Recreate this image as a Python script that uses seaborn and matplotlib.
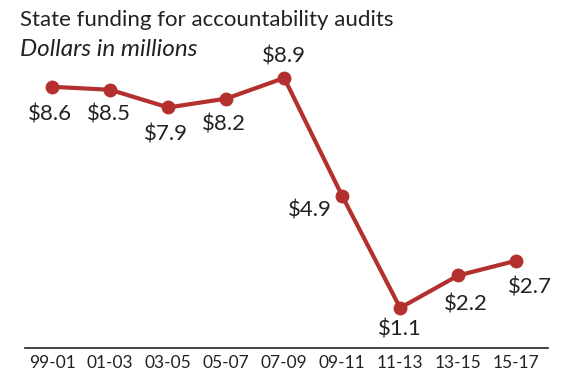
import pandas as pd
from matplotlib import pyplot as plt
import seaborn as sns

periods = ["99-01", "01-03", "03-05", "05-07", "07-09", "09-11", "11-13", "13-15", "15-17"]
funding = [8.6, 8.5, 7.9, 8.2, 8.9, 4.9, 1.1, 2.2, 2.7]
# label offsets in pixels (dx, dy) from each point
offsets = [(-2, -28), (-1, -25), (-2, -27), (-2, -26), (0, 21), (-32, -15), (0, -22), (8, -29), (14, -27)]

df = pd.DataFrame({"period": periods, "funding": funding})
df["idx"] = range(len(df))

sns.set_style("white")
plt.rcParams["font.family"] = ["Lato", "DejaVu Sans"]

red = "#b3302f"
fig = plt.figure(figsize=(5.63, 3.84), dpi=100)
ax = fig.add_axes([25 / 563, 1 - 348 / 384, 523 / 563, 288 / 384])

sns.lineplot(
    data=df, x="idx", y="funding", ax=ax, color=red, linewidth=3,
    marker="o", markersize=10, markeredgewidth=0,
)

for i, (v, (dx, dy)) in enumerate(zip(funding, offsets)):
    ax.annotate(f"${v:.1f}", (i, v), xytext=(dx, dy), textcoords="offset pixels",
                ha="center", va="center", fontsize=16, color="#222222")

ax.set_xlim(-0.47, 8.55)
ax.set_ylim(-0.26, 9.51)
ax.set_xticks(range(len(periods)))
ax.set_xticklabels(periods, fontsize=12.5, color="#222222")
ax.set_yticks([])
ax.set_xlabel("")
ax.set_ylabel("")
for s in ["top", "left", "right"]:
    ax.spines[s].set_visible(False)
ax.spines["bottom"].set_color("#222222")
ax.spines["bottom"].set_linewidth(1.2)
ax.tick_params(axis="x", length=0, pad=5)

fig.text(20 / 563, 1 - 20 / 384, "State funding for accountability audits",
         fontsize=16, va="center", ha="left", color="#222222")
fig.text(20 / 563, 1 - 50 / 384, "Dollars in millions",
         fontsize=17.5, style="italic", va="center", ha="left", color="#222222")

plt.savefig("out.png", dpi=100)
